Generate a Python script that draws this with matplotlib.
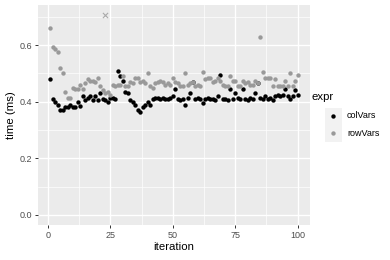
import numpy as np
import matplotlib
matplotlib.use("Agg")
import matplotlib.pyplot as plt

plt.rcParams["font.family"] = ["Liberation Sans", "DejaVu Sans"]

# values (time in ms per iteration)
iteration = np.arange(1, 101)
col_vars = [
    0.48, 0.41, 0.40, 0.39, 0.37, 0.37, 0.38, 0.38, 0.39, 0.38,
    0.38, 0.40, 0.385, 0.42, 0.405, 0.415, 0.42, 0.405, 0.42, 0.405,
    0.43, 0.41, 0.405, 0.40, 0.413, 0.415, 0.41, 0.51, 0.49, 0.475,
    0.435, 0.43, 0.405, 0.40, 0.39, 0.37, 0.365, 0.38, 0.39, 0.40,
    0.39, 0.41, 0.415, 0.415, 0.41, 0.415, 0.41, 0.41, 0.415, 0.42,
    0.445, 0.41, 0.405, 0.41, 0.39, 0.415, 0.43, 0.47, 0.41, 0.415,
    0.41, 0.395, 0.41, 0.415, 0.41, 0.41, 0.405, 0.42, 0.495, 0.41,
    0.41, 0.405, 0.445, 0.41, 0.43, 0.415, 0.41, 0.445, 0.41, 0.405,
    0.415, 0.41, 0.43, 0.465, 0.415, 0.41, 0.42, 0.41, 0.415, 0.405,
    0.42, 0.425, 0.42, 0.425, 0.445, 0.42, 0.41, 0.42, 0.44, 0.425,
]
row_vars = [
    0.66, 0.595, 0.585, 0.575, 0.52, 0.50, 0.435, 0.415, 0.415, 0.45,
    0.445, 0.445, 0.46, 0.445, 0.465, 0.48, 0.475, 0.475, 0.47, 0.485,
    0.455, 0.44, 0.43, 0.435, 0.425, 0.46, 0.455, 0.46, 0.46, 0.49,
    0.455, 0.455, 0.47, 0.465, 0.485, 0.485, 0.47, 0.475, 0.465, 0.50,
    0.455, 0.45, 0.465, 0.47, 0.475, 0.47, 0.46, 0.465, 0.46, 0.485,
    0.47, 0.465, 0.455, 0.455, 0.50, 0.46, 0.465, 0.47, 0.455, 0.46,
    0.455, 0.505, 0.48, 0.485, 0.485, 0.47, 0.475, 0.485, 0.475, 0.46,
    0.455, 0.455, 0.49, 0.475, 0.475, 0.455, 0.455, 0.475, 0.465, 0.47,
    0.46, 0.46, 0.475, 0.465, 0.63, 0.505, 0.485, 0.485, 0.485, 0.455,
    0.48, 0.455, 0.455, 0.455, 0.475, 0.455, 0.50, 0.455, 0.475, 0.495,
]
outlier_iter = [23]
outlier_time = [0.707]

series = ["colVars", "rowVars"]
colors = ["black", "#999999"]

fig = plt.figure(figsize=(3.9, 2.6), dpi=100)
ax = fig.add_axes([38 / 390, 35 / 260, 272 / 390, 220 / 260])
ax.set_facecolor("#EBEBEB")

ax.scatter(iteration, col_vars, s=10, color=colors[0], linewidths=0, zorder=3)
ax.scatter(iteration, row_vars, s=10, color=colors[1], linewidths=0, zorder=3)
ax.scatter(outlier_iter, outlier_time, s=14, marker="x", color="#AAAAAA",
           linewidths=0.8, zorder=3)

ax.set_xlim(1 - 4.95, 100 + 4.95)
ax.set_ylim(-0.0354, 0.742)
ax.set_xticks([0, 25, 50, 75, 100])
ax.set_yticks([0.0, 0.2, 0.4, 0.6])
ax.set_yticklabels(["0.0", "0.2", "0.4", "0.6"])
ax.set_xticks([12.5, 37.5, 62.5, 87.5], minor=True)
ax.set_yticks([0.1, 0.3, 0.5, 0.7], minor=True)
ax.grid(which="major", color="white", linewidth=1.0)
ax.grid(which="minor", color="white", linewidth=0.5)
ax.set_axisbelow(True)
for sp in ax.spines.values():
    sp.set_visible(False)
ax.tick_params(which="major", length=2.5, width=0.7, color="#333333",
               labelsize=6.5, labelcolor="#4D4D4D", pad=1.5)
ax.tick_params(which="minor", length=0)
ax.set_xlabel("iteration", fontsize=8.2, labelpad=2)
ax.set_ylabel("time (ms)", fontsize=8.2, labelpad=3)

# legend built by hand, ggplot style
fig.text(311 / 390, 1 - 97 / 260, "expr", fontsize=8.2, va="center", ha="left")
lax = fig.add_axes([325 / 390, 1 - 142 / 260, 17 / 390, 34 / 260])
lax.set_facecolor("#F2F2F2")
lax.set_xlim(0, 1)
lax.set_ylim(0, 2)
lax.scatter([0.5, 0.5], [1.5, 0.5], s=10, color=colors, linewidths=0)
lax.set_xticks([])
lax.set_yticks([])
for sp in lax.spines.values():
    sp.set_visible(False)
for k, name in enumerate(series):
    fig.text(347 / 390, 1 - (116 + 17 * k) / 260, name, fontsize=6.5,
             va="center", ha="left")

fig.savefig("out.png", dpi=100)
